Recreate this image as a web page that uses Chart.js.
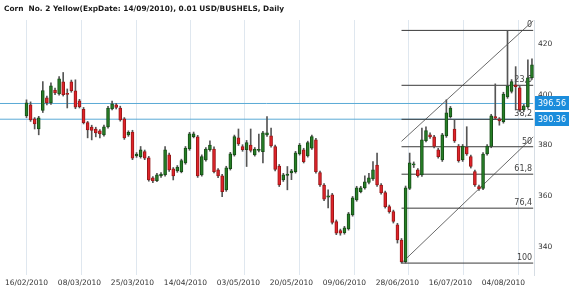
<!DOCTYPE html>
<html><head><meta charset="utf-8">
<style>html,body{margin:0;padding:0;background:#fff;}#wrap{width:570px;height:292px;}</style>
<script src="https://cdn.jsdelivr.net/npm/chart.js@4.4.0/dist/chart.umd.min.js"></script>
</head><body><div id="wrap"><canvas id="c" width="570" height="292"></canvas></div>
<script>
const titleText = 'Corn  No. 2 Yellow(ExpDate: 14/09/2010), 0.01 USD/BUSHELS, Daily';
const dates = ['16/02/2010','17/02/2010','18/02/2010','19/02/2010','23/02/2010','24/02/2010','25/02/2010','26/02/2010','01/03/2010','02/03/2010','03/03/2010','04/03/2010','05/03/2010',
'08/03/2010','09/03/2010','10/03/2010','11/03/2010','12/03/2010','15/03/2010','16/03/2010','17/03/2010','18/03/2010','19/03/2010','22/03/2010','23/03/2010','24/03/2010',
'25/03/2010','26/03/2010','29/03/2010','30/03/2010','31/03/2010','01/04/2010','05/04/2010','06/04/2010','07/04/2010','08/04/2010','09/04/2010','12/04/2010','13/04/2010',
'14/04/2010','15/04/2010','16/04/2010','19/04/2010','20/04/2010','21/04/2010','22/04/2010','23/04/2010','26/04/2010','27/04/2010','28/04/2010','29/04/2010','30/04/2010',
'03/05/2010','04/05/2010','05/05/2010','06/05/2010','07/05/2010','10/05/2010','11/05/2010','12/05/2010','13/05/2010','14/05/2010','17/05/2010','18/05/2010','19/05/2010',
'20/05/2010','21/05/2010','24/05/2010','25/05/2010','26/05/2010','27/05/2010','28/05/2010','01/06/2010','02/06/2010','03/06/2010','04/06/2010','07/06/2010','08/06/2010',
'09/06/2010','10/06/2010','11/06/2010','14/06/2010','15/06/2010','16/06/2010','17/06/2010','18/06/2010','21/06/2010','22/06/2010','23/06/2010','24/06/2010','25/06/2010',
'28/06/2010','29/06/2010','30/06/2010','01/07/2010','02/07/2010','06/07/2010','07/07/2010','08/07/2010','09/07/2010','12/07/2010','13/07/2010','14/07/2010','15/07/2010',
'16/07/2010','19/07/2010','20/07/2010','21/07/2010','22/07/2010','23/07/2010','26/07/2010','27/07/2010','28/07/2010','29/07/2010','30/07/2010','02/08/2010','03/08/2010',
'04/08/2010','05/08/2010','06/08/2010','09/08/2010','10/08/2010','11/08/2010','12/08/2010','13/08/2010'];
const opens = [391.7,396.0,390.5,386.5,393.8,398.8,396.8,401.9,400.3,405.1,400.6,405.1,401.6,
397.6,394.3,389.0,387.3,386.5,385.8,384.2,387.3,394.4,396.0,394.8,390.5,384.2,
385.3,375.9,375.6,377.6,375.1,367.2,366.1,368.0,368.4,376.3,370.8,370.0,369.7,
373.1,378.6,383.5,383.4,368.4,374.3,378.3,378.6,370.4,368.0,362.5,370.8,376.3,
383.0,379.6,378.3,380.2,376.3,378.0,377.6,384.2,383.8,379.6,371.9,366.4,368.2,
369.2,369.7,376.7,378.3,375.9,378.9,382.2,369.3,364.4,359.6,360.5,350.0,346.4,
345.6,347.1,352.6,358.5,361.8,363.3,365.4,366.8,372.3,364.4,361.4,355.9,353.9,
348.7,342.7,334.2,363.1,372.3,370.4,368.4,381.9,384.2,383.4,378.3,374.3,383.8,
391.4,386.5,379.8,374.3,379.4,375.6,369.7,363.8,363.1,376.7,379.6,391.4,390.5,
389.4,399.2,401.3,403.9,402.7,394.0,395.2,406.7];
const highs = [398.0,397.2,391.0,391.5,405.2,399.5,404.7,402.6,407.2,408.8,402.3,405.8,405.9,
398.2,395.0,389.5,388.0,387.2,386.3,388.0,395.4,397.5,396.6,395.5,391.0,385.8,
386.0,377.2,379.6,378.2,375.7,367.7,369.0,369.3,379.6,377.0,371.3,372.1,374.6,
379.6,385.2,385.3,384.0,376.3,379.2,381.8,379.5,370.9,368.6,371.8,377.3,384.1,
386.5,380.3,382.0,386.5,379.2,384.5,385.6,391.4,386.9,380.2,372.5,369.0,371.7,
370.6,377.7,380.8,378.9,381.7,384.1,382.8,369.9,365.0,362.5,361.1,350.6,347.0,
348.1,353.6,359.9,363.9,363.9,368.0,369.0,373.6,377.0,365.0,362.0,356.5,354.5,
349.3,343.3,364.0,377.0,373.5,370.9,386.9,387.4,385.0,384.0,378.9,384.8,398.0,
395.4,390.1,380.4,380.4,387.4,376.2,370.3,364.4,377.2,380.4,392.3,404.3,391.0,
401.0,425.4,406.0,411.1,403.3,396.2,413.8,414.2];
const lows = [391.0,389.5,386.5,384.2,393.0,396.0,396.2,400.0,399.8,399.5,394.8,401.0,394.5,
394.8,388.5,383.0,382.2,383.4,383.0,383.7,386.8,394.0,394.4,389.6,382.4,383.6,
374.4,375.3,375.0,374.4,365.9,365.3,365.7,367.4,367.9,369.8,366.4,369.4,369.2,
372.6,378.1,383.0,367.4,367.9,373.8,377.8,369.2,367.3,359.8,361.9,370.3,375.8,
380.0,377.7,371.7,377.4,375.8,377.5,373.1,383.6,379.3,370.0,363.8,365.8,362.5,
366.5,369.1,376.2,373.1,375.4,378.4,369.1,363.8,358.2,355.4,349.0,344.8,344.6,
345.0,346.6,352.1,358.0,361.3,362.8,364.8,366.2,363.8,360.8,355.3,353.3,349.4,
341.5,333.6,333.6,362.6,371.3,367.5,367.8,381.4,382.8,379.0,375.0,373.7,383.2,
390.8,381.2,373.4,373.7,376.1,371.1,363.8,362.3,362.6,376.2,379.1,390.2,388.0,
388.8,398.6,400.7,394.0,393.4,393.4,394.6,406.1];
const closes = [396.8,390.1,388.5,390.9,401.7,396.8,403.5,400.7,406.3,400.0,400.1,401.6,395.1,
395.3,389.0,386.1,385.9,385.0,384.6,387.4,394.8,396.4,395.0,390.1,383.0,385.2,
375.0,376.6,378.3,375.0,366.4,366.0,368.4,368.7,378.3,370.4,368.0,371.5,374.0,
379.0,384.6,384.6,368.0,375.6,378.6,380.2,369.7,368.0,361.8,371.2,376.7,383.5,
380.6,378.3,381.1,378.0,378.6,378.5,385.0,385.0,379.8,370.6,364.4,368.4,368.7,
370.0,377.1,380.2,373.6,381.1,383.5,369.7,364.4,358.8,360.1,349.6,345.4,345.4,
347.5,353.0,359.3,363.3,363.3,365.7,367.2,370.4,364.4,361.4,355.9,353.9,350.0,
342.7,334.2,363.3,373.2,372.8,368.1,382.2,385.9,383.4,379.6,375.6,384.2,392.9,
394.8,381.8,374.0,379.8,376.7,371.7,364.4,362.9,376.6,379.8,391.7,390.8,389.7,
400.3,403.5,405.2,403.2,394.0,395.6,406.7,411.8];
const xTickIdx = [0,13,26,39,52,65,78,91,104,117];
const gridIdx = [0.1,13.5,26.9,40.2,53.6,67.0,80.4,93.8,107.2,120.6];
const yTicks = [340,360,380,400,420];
const fibHigh = 425.4, fibLow = 333.6, fibStartIdx = 92, fibEndIdx = 124.3;
const fibLevels = [0,23.6,38.2,50,61.8,76.4,100];
const fibLabels = ['0','23,6','38,2','50','61,8','76,4','100'];
const hLines = [396.56, 390.36];
const channelLower = [[92,333.6],[124.3,383.4]];
const channelUpper = [[92,381.65],[124.3,429.2]];

const X_MIN = -6.5, X_MAX = dates.length - 0.5;
const FONT = '"DejaVu Sans", Verdana, sans-serif';
const fibValue = p => fibHigh - (fibHigh - fibLow) * p / 100;
const isUp = i => closes[i] >= opens[i];

const datasets = [];
datasets.push({
  type:'bar', label:'bodies', order:1, grouped:false,
  data: dates.map((d,i)=>({x:i, y:[opens[i], closes[i]]})),
  backgroundColor: ctx => isUp(ctx.dataIndex) ? '#267f26' : '#e0232a',
  borderColor: ctx => isUp(ctx.dataIndex) ? '#174d17' : '#981818',
  borderWidth:1, borderSkipped:false, barThickness:3
});
datasets.push({
  type:'bar', label:'wicks', order:2, grouped:false,
  data: dates.map((d,i)=>({x:i, y:[lows[i], highs[i]]})),
  backgroundColor:'#555', borderWidth:0, barThickness:1
});
fibLevels.forEach((p,k)=>{
  datasets.push({type:'line', order:5, data:[{x:fibStartIdx,y:fibValue(p)},{x:fibEndIdx,y:fibValue(p)}],
    borderColor:'#3a3a3a', borderWidth:1, pointRadius:0, tension:0});
});
hLines.forEach(v=>{
  datasets.push({type:'line', order:6, data:[{x:X_MIN,y:v},{x:fibEndIdx,y:v}],
    borderColor:'#5aaad6', borderWidth:1, pointRadius:0});
});
[channelLower, channelUpper].forEach(c=>{
  datasets.push({type:'line', order:4, data:c.map(p=>({x:p[0],y:p[1]})),
    borderColor:'#444', borderWidth:0.8, pointRadius:0});
});

const overlay = {
  id:'overlay',
  beforeDatasetsDraw(chart){
    const ctx = chart.ctx, y = chart.scales.y, xs = chart.scales.x;
    ctx.save();
    ctx.font = '8px ' + FONT; ctx.fillStyle = '#444';
    ctx.textAlign = 'right'; ctx.textBaseline = 'alphabetic';
    const xr = xs.getPixelForValue(fibEndIdx) - 1;
    fibLevels.forEach((p,k)=>{
      ctx.fillText(fibLabels[k], xr, y.getPixelForValue(fibValue(p)) - 3);
    });
    ctx.restore();
  },
  afterDraw(chart){
    const ctx = chart.ctx, y = chart.scales.y, a = chart.chartArea;
    ctx.save();
    ctx.font = 'bold 7.4px ' + FONT; ctx.fillStyle = '#1a1a1a';
    ctx.textAlign = 'left'; ctx.textBaseline = 'middle';
    ctx.fillText(titleText, 4, 9);
    ctx.font = '8px ' + FONT;
    hLines.forEach(v=>{
      const py = Math.round(y.getPixelForValue(v));
      ctx.fillStyle = '#1b8ddc';
      ctx.fillRect(a.right + 1, py - 7, 34, 14);
      ctx.fillStyle = '#fff'; ctx.textAlign = 'center';
      ctx.fillText(v.toFixed(2), a.right + 18, py + 0.5);
    });
    ctx.restore();
  }
};

new Chart(document.getElementById('c'), {
  type:'bar',
  data:{datasets},
  options:{
    responsive:false, animation:false,
    layout:{padding:{top:20,left:0,right:0,bottom:0}},
    plugins:{legend:{display:false}, tooltip:{enabled:false}, title:{display:false}},
    scales:{
      x:{type:'linear', offset:false, min:X_MIN, max:X_MAX, position:'bottom',
        afterBuildTicks: s => { s.ticks = xTickIdx.map(v=>({value:v})); },
        afterFit: s => { s.height = 17; },
        ticks:{autoSkip:false, maxRotation:0, padding:4, color:'#333', font:{family:FONT, size:7.5},
          callback: v => dates[v] || ''},
        grid:{display:false, drawTicks:false, offset:false}, border:{display:false}},
      xg:{type:'linear', offset:false, min:X_MIN, max:X_MAX, position:'top',
        afterBuildTicks: s => { s.ticks = gridIdx.map(v=>({value:v})); },
        afterFit: s => { s.height = 0; },
        ticks:{display:false}, grid:{color:'#dfe7ef', drawTicks:false, offset:false}, border:{display:false}},
      y:{type:'linear', position:'right', min:328.9, max:429.5,
        afterBuildTicks: s => { s.ticks = yTicks.map(v=>({value:v})); },
        afterFit: s => { s.width = 36; },
        ticks:{padding:4, color:'#333', font:{family:FONT, size:7.5}},
        grid:{display:false, drawTicks:false}, border:{display:true, color:'#d6dde4'}}
    }
  },
  plugins:[overlay]
});
</script></body></html>
